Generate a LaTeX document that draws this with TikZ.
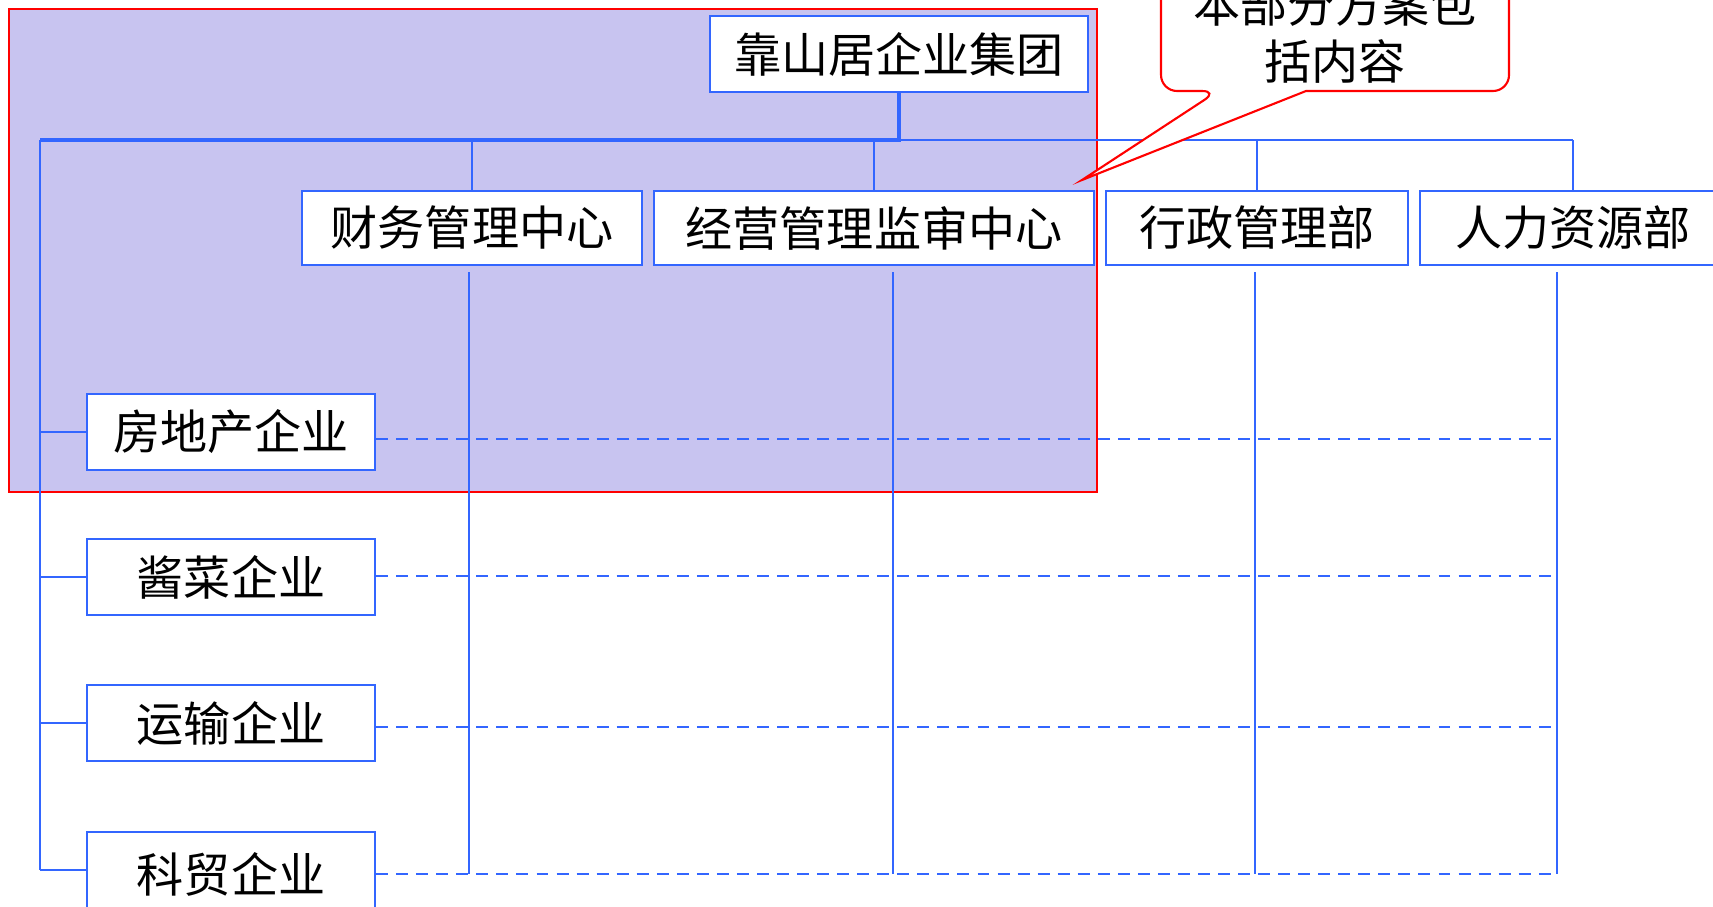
\documentclass[tikz,border=0pt]{standalone}
\usepackage{fontspec}
\setmainfont{Noto Sans CJK SC}
\usetikzlibrary{positioning}
\definecolor{orgblue}{RGB}{51,102,255}
\definecolor{framefill}{RGB}{200,196,240}
\tikzset{unit/.style = {draw = orgblue, fill = white, line width = 0.6pt, inner sep = 0, font = \fontsize{13.4pt}{16pt}\selectfont}}
\tikzset{wire/.style = {draw = orgblue, line width = 0.6pt}}
\tikzset{bus/.style = {draw = orgblue, line width = 1.2pt}}
\tikzset{dotline/.style = {draw = orgblue, line width = 0.6pt, dash pattern = on 3.4pt off 2.3pt}}

\begin{document}
\begin{tikzpicture}[x = 0.01cm, y = -0.01cm]
      \useasboundingbox (0, 0) rectangle (1713, 906);
      \draw [red, fill = framefill, line width = 0.6pt] (9, 9) rectangle (1097, 492);
      % boxes
      \node [unit, minimum width = 3.78cm, minimum height = 0.76cm] (group) at (899, 54) {靠山居企业集团};
      \node [unit, minimum width = 3.39cm, minimum height = 0.74cm] (finance) at (472, 228) {财务管理中心};
      \node [unit, minimum width = 4.40cm, minimum height = 0.74cm] (audit) at (874, 228) {经营管理监审中心};
      \node [unit, minimum width = 3.02cm, minimum height = 0.74cm] (admin) at (1257, 228) {行政管理部};
      \node [unit, minimum width = 3.06cm, minimum height = 0.74cm] (hr) at (1573, 228) {人力资源部};
      \node [unit, minimum width = 2.88cm, minimum height = 0.76cm] (estate) at (231, 432) {房地产企业};
      \node [unit, minimum width = 2.88cm, minimum height = 0.76cm] (pickle) at (231, 577) {酱菜企业};
      \node [unit, minimum width = 2.88cm, minimum height = 0.76cm] (transport) at (231, 723) {运输企业};
      \node [unit, minimum width = 2.88cm, minimum height = 0.84cm] (trade) at (231, 874) {科贸企业};
      \coordinate (hub) at (899, 140);
      \coordinate (corner) at (40, 140);
      \coordinate (financedrop) at (469, 874);
      \coordinate (auditdrop) at (893, 874);
      \coordinate (admindrop) at (1255, 874);
      \coordinate (hrdrop) at (1557, 874);
      % lines
      \draw [bus] (group) -- (hub) -- (corner);
      \draw [wire] (hub) -- (hub -| hr);
      \foreach \n in {finance, audit, admin, hr}
        \draw [wire] (hub -| \n) -- (\n);
      \draw [wire] (corner) -- (corner |- 0, 870);
      \foreach \n/\y in {estate/432, pickle/577, transport/723, trade/870}
        \draw [wire] (corner |- 0, \y) -- (\n.west |- 0, \y);
      \foreach \n in {finance, audit, admin, hr}
        \draw [wire, shorten <= 1.7pt] (\n.south -| \n drop) -- (\n drop);
      \foreach \n/\y in {estate/439, pickle/576, transport/727, trade/874}
        \draw [dotline] (\n.east |- 0, \y) -- (hrdrop |- 0, \y);
      % callout
      \draw [red, fill = white, line width = 0.6pt] (1218, 91) -- (1082, 180) -- (1306, 91) [rounded corners = 0.16cm] -- (1509, 91) -- (1509, -80) -- (1161, -80) -- (1161, 91) -- cycle;
      \node [align = center, font = \fontsize{13.4pt}{16.2pt}\selectfont] (note) at (1335, 33) {本部分方案包\\括内容};
    \end{tikzpicture}
\end{document}
